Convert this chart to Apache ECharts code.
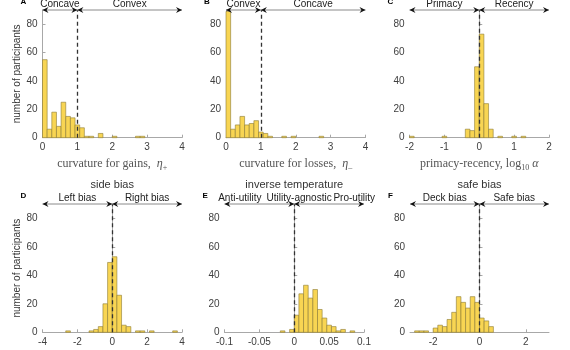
<!DOCTYPE html>
<html>
<head>
<meta charset="utf-8">
<script src="https://cdn.jsdelivr.net/npm/echarts@6/dist/echarts.min.js"></script>
<style>
  html, body { margin: 0; padding: 0; background: #fff; }
  #chart { width: 570px; height: 350px; }
</style>
</head>
<body>
<div id="chart"></div>
<script>
// histogram counts, one list per panel
var countsA = [55, 6, 18, 8, 25, 15, 14, 9, 7, 1, 1, 0, 3, 0, 0, 1, 0, 0, 0, 0, 1, 1];
var countsB = [89, 6, 9, 15, 9, 10, 12, 4, 3, 1, 0, 0, 1, 0, 1, 0, 0, 0, 0, 0, 1];
var countsC = [1, 0, 0, 0, 0, 0, 0, 1, 0, 0, 0, 0, 6, 5, 50, 73, 24, 6, 0, 1, 0, 0, 1, 0, 1];
var countsD = [0, 0, 0, 0, 0, 1, 0, 0, 0, 0, 1, 2, 4, 20, 49, 53, 26, 5, 4, 0, 1, 1, 0, 1, 0, 0, 0, 0, 1];
var countsE = [0, 0, 0, 0, 0, 0, 0, 0, 0, 0, 0, 0, 1, 0, 2, 12, 27, 33, 24, 30, 16, 10, 5, 4, 1, 2, 0, 1];
var countsF = [0, 1, 1, 1, 0, 3, 5, 4, 9, 14, 25, 21, 17, 25, 21, 10, 8, 4];

// first bin edge and bin width per panel
var binStart = [0, 0, -2, -4, -0.1, -3];
var binWidth = [2 / 15, 2 / 15, 2 / 15, 4 / 15, 0.1 / 15, 0.2];

// axis ranges and ticks
var xMin = [0, 0, -2, -4, -0.1, -3];
var xMax = [4, 4, 2, 4, 0.1, 3];
var xTicks = [[0, 1, 2, 3, 4], [0, 1, 2, 3, 4], [-2, -1, 0, 1, 2], [-4, -2, 0, 2, 4], [-0.1, -0.05, 0, 0.05, 0.1], [-2, 0, 2]];
var yTicks = [0, 20, 40, 60, 80];
var refLine = [1, 1, 0, 0, 0, 0];

var letters = ['A', 'B', 'C', 'D', 'E', 'F'];
var titles = ['', '', '', 'side bias', 'inverse temperature', 'safe bias'];
var leftLabels = ['Concave', 'Convex', 'Primacy', 'Left bias', 'Anti-utility', 'Deck bias'];
var rightLabels = ['Convex', 'Concave', 'Recency', 'Right bias', 'Pro-utility', 'Safe bias'];

var allCounts = [countsA, countsB, countsC, countsD, countsE, countsF];

var gridPos = [
  {left: 42.5, top: 10, width: 139.5, height: 127.7},
  {left: 226, top: 10, width: 139.5, height: 127.7},
  {left: 409.5, top: 10, width: 139.5, height: 127.7},
  {left: 42.5, top: 204, width: 139.5, height: 128.3},
  {left: 224.5, top: 204, width: 139.5, height: 128.3},
  {left: 410, top: 204, width: 139, height: 128.3}
];

var serif = 'Liberation Serif';
var sans = 'Liberation Sans';
var axisGrey = '#a8a8a8';
var tickText = '#404040';

var xNames = [
  '{t|curvature for gains,  }{i|η}{s|+}',
  '{t|curvature for losses,  }{i|η}{s|–}',
  '{t|primacy-recency, log}{s|10}{i| α}',
  '', '', ''
];
var richName = {
  t: {fontFamily: serif, fontSize: 12, color: '#555'},
  i: {fontFamily: serif, fontSize: 12, fontStyle: 'italic', color: '#555'},
  s: {fontFamily: serif, fontSize: 8, color: '#555', padding: [7, 0, 0, 0]}
};

function renderBar(params, api) {
  var p0 = api.coord([api.value(0), 0]);
  var p1 = api.coord([api.value(1), api.value(2)]);
  return {
    type: 'rect',
    shape: {x: p0[0], y: p1[1], width: p1[0] - p0[0], height: p0[1] - p1[1]},
    style: {fill: '#f8d553', stroke: '#8c7a34', lineWidth: 0.6}
  };
}

var grid = [], xAxis = [], yAxis = [], series = [];
for (var k = 0; k < 6; k++) {
  grid.push(gridPos[k]);
  xAxis.push({
    type: 'value', gridIndex: k, min: xMin[k], max: xMax[k],
    name: xNames[k], nameLocation: 'middle', nameGap: 19,
    nameTextStyle: {rich: richName},
    axisLine: {show: true, lineStyle: {color: axisGrey, width: 1}},
    axisTick: {show: true, inside: true, length: 3, lineStyle: {color: axisGrey}, customValues: xTicks[k]},
    axisLabel: {color: tickText, fontSize: 10, fontFamily: sans, margin: 5, customValues: xTicks[k]},
    splitLine: {show: false}
  });
  yAxis.push({
    type: 'value', gridIndex: k, min: 0, max: 90,
    name: (k === 0 || k === 3) ? 'number of participants' : '',
    nameLocation: 'middle', nameGap: 17,
    nameTextStyle: {color: '#333', fontSize: 10, fontFamily: sans},
    axisLine: {show: true, lineStyle: {color: axisGrey, width: 1}},
    axisTick: {show: true, inside: true, length: 3, lineStyle: {color: axisGrey}, customValues: yTicks},
    axisLabel: {color: tickText, fontSize: 10, fontFamily: sans, margin: 5, customValues: yTicks},
    splitLine: {show: false}
  });
  var items = [];
  allCounts[k].forEach(function (c, i) {
    if (c > 0) {
      var a = binStart[k] + i * binWidth[k];
      items.push([a, a + binWidth[k], c]);
    }
  });
  series.push({
    type: 'custom', xAxisIndex: k, yAxisIndex: k,
    renderItem: renderBar,
    encode: {x: [0, 1], y: 2},
    data: items,
    markLine: {
      silent: true, symbol: ['none', 'none'], animation: false,
      label: {show: false},
      lineStyle: {type: [4, 3], color: '#333', width: 1.3},
      data: [{xAxis: refLine[k]}]
    }
  });
}

var myChart = echarts.init(document.getElementById('chart'));
myChart.setOption({
  animation: false,
  textStyle: {fontFamily: sans},
  grid: grid, xAxis: xAxis, yAxis: yAxis, series: series
});

// arrows, labels, titles and panel letters
function arrowHead(tipX, y, dir) {
  // dir = -1 points left, +1 points right
  return {
    type: 'polygon', z: 10,
    shape: {points: [[tipX, y], [tipX - dir * 6, y - 3], [tipX - dir * 4, y], [tipX - dir * 6, y + 3]]},
    style: {fill: '#111'}
  };
}

var g = [];
for (var k = 0; k < 6; k++) {
  var pL = myChart.convertToPixel({gridIndex: k}, [xMin[k], 90]);
  var pM = myChart.convertToPixel({gridIndex: k}, [refLine[k], 90]);
  var pR = myChart.convertToPixel({gridIndex: k}, [xMax[k], 90]);
  var y = pL[1];
  g.push({type: 'line', z: 9, shape: {x1: pL[0], y1: y, x2: pR[0], y2: y}, style: {stroke: '#8a8a8a', lineWidth: 1}});
  g.push(arrowHead(pL[0], y, -1));
  g.push(arrowHead(pM[0], y, 1));
  g.push(arrowHead(pM[0], y, -1));
  g.push(arrowHead(pR[0], y, 1));

  var cl = (pL[0] + pM[0]) / 2, cr = (pM[0] + pR[0]) / 2;
  if (k === 4) {
    cl = myChart.convertToPixel({gridIndex: k}, [-0.078, 90])[0];
    cr = myChart.convertToPixel({gridIndex: k}, [0.086, 90])[0];
    var cm = myChart.convertToPixel({gridIndex: k}, [0.007, 90])[0];
    g.push({type: 'text', z: 11, style: {text: 'Utility-agnostic', x: cm, y: y - 1, align: 'center', verticalAlign: 'bottom', fill: '#222', font: '10px ' + sans}});
  }
  g.push({type: 'text', z: 11, style: {text: leftLabels[k], x: cl, y: y - 1, align: 'center', verticalAlign: 'bottom', fill: '#222', font: '10px ' + sans}});
  g.push({type: 'text', z: 11, style: {text: rightLabels[k], x: cr, y: y - 1, align: 'center', verticalAlign: 'bottom', fill: '#222', font: '10px ' + sans}});

  if (titles[k]) {
    g.push({type: 'text', style: {text: titles[k], x: (pL[0] + pR[0]) / 2, y: 185, align: 'center', verticalAlign: 'middle', fill: '#333', font: '11px ' + sans}});
  }
  g.push({type: 'text', style: {text: letters[k], x: gridPos[k].left - 22, y: y - 8, align: 'left', verticalAlign: 'middle', fill: '#000', font: 'bold 8px ' + sans}});
}
myChart.setOption({graphic: g});
</script>
</body>
</html>
